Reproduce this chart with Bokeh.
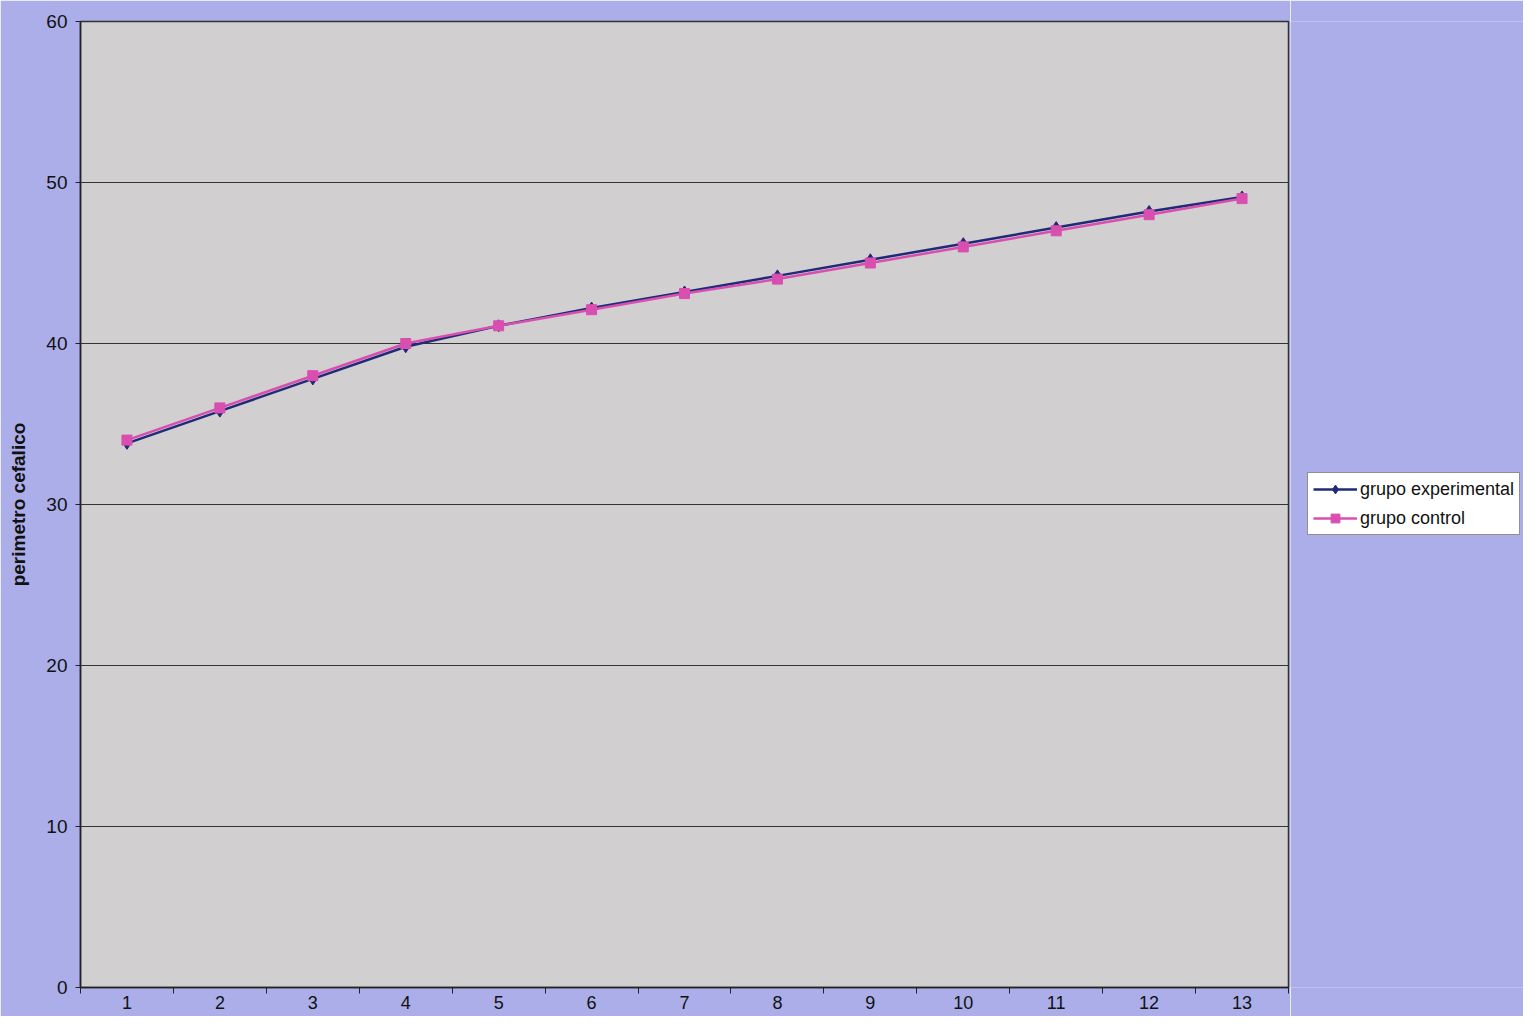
from bokeh.plotting import figure
from bokeh.layouts import row
from bokeh.models import FixedTicker, Range1d, Legend, LegendItem
from bokeh.embed import file_html
from bokeh.resources import INLINE

categories = list(range(1, 14))
tick_labels = [str(c) for c in categories]
experimental = [33.8, 35.8, 37.8, 39.8, 41.1, 42.2, 43.2, 44.2, 45.2, 46.2, 47.2, 48.2, 49.1]
control = [34.0, 36.0, 38.0, 40.0, 41.1, 42.1, 43.1, 44.0, 45.0, 46.0, 47.0, 48.0, 49.0]
series_names = ["grupo experimental", "grupo control"]
y_ticks = [0, 10, 20, 30, 40, 50, 60]

BG = "#ABAEE8"
PLOT_BG = "#D1CFCF"
NAVY = "#1F2A78"
PINK = "#D84FB0"
FONT = "Liberation Sans"

p = figure(width=1290, height=1016, output_backend="svg", toolbar_location=None,
           x_range=Range1d(0.5, 13.5), y_range=Range1d(0, 60),
           min_border_left=80, min_border_right=2, min_border_top=21, min_border_bottom=29)
p.background_fill_color = PLOT_BG
p.border_fill_color = BG
p.outline_line_color = "#333333"
p.outline_line_width = 1.5

# x axis: labels at category centres, ticks at category boundaries
p.xaxis.ticker = FixedTicker(ticks=categories, minor_ticks=[0.5 + i for i in range(14)])
p.xaxis.major_label_overrides = {c: l for c, l in zip(categories, tick_labels)}
p.xaxis.major_tick_line_color = None
p.xaxis.minor_tick_line_color = "#222222"
p.xaxis.minor_tick_out = 6
p.xaxis.minor_tick_in = 0
p.xaxis.axis_line_color = "#222222"
p.xaxis.axis_line_width = 1.5
p.xaxis.major_label_text_font = FONT
p.xaxis.major_label_text_font_size = "18px"
p.xaxis.major_label_text_color = "#111111"
p.xaxis.major_label_standoff = 2
p.xgrid.grid_line_color = None

p.yaxis.ticker = FixedTicker(ticks=y_ticks, minor_ticks=[])
p.yaxis.major_tick_out = 5
p.yaxis.major_tick_in = 0
p.yaxis.major_tick_line_color = "#222222"
p.yaxis.axis_line_color = "#222222"
p.yaxis.axis_line_width = 1.5
p.yaxis.major_label_text_font = FONT
p.yaxis.major_label_text_font_size = "19px"
p.yaxis.major_label_text_color = "#111111"
p.yaxis.major_label_standoff = 8
p.yaxis.axis_label = "perimetro cefalico"
p.yaxis.axis_label_text_font = FONT
p.yaxis.axis_label_text_font_size = "19px"
p.yaxis.axis_label_text_font_style = "bold"
p.yaxis.axis_label_text_color = "#111111"
p.yaxis.axis_label_standoff = 14
p.ygrid.grid_line_color = "#333333"
p.ygrid.grid_line_width = 1.2

p.line(categories, experimental, line_color=NAVY, line_width=2.5)
p.scatter(categories, experimental, marker="diamond", size=12, fill_color=NAVY, line_color=NAVY)
p.line(categories, control, line_color=PINK, line_width=2.5)
p.scatter(categories, control, marker="square", size=10, fill_color=PINK, line_color=PINK)

# legend panel: a figure to the right whose view range excludes the data,
# so its renderers only provide the legend swatches
q = figure(width=233, height=1016, output_backend="svg", toolbar_location=None,
           x_axis_type=None, y_axis_type=None,
           x_range=Range1d(1000, 1001), y_range=Range1d(1000, 1001),
           min_border=0)
q.background_fill_color = BG
q.background_fill_alpha = 1
q.border_fill_color = BG
q.outline_line_color = None
q.xgrid.grid_line_color = None
q.ygrid.grid_line_color = None
l1 = q.line(categories, experimental, line_color=NAVY, line_width=2.5)
m1 = q.scatter(categories, experimental, marker="diamond", size=12, fill_color=NAVY, line_color=NAVY)
l2 = q.line(categories, control, line_color=PINK, line_width=2.5)
m2 = q.scatter(categories, control, marker="square", size=10, fill_color=PINK, line_color=PINK)

lg = Legend(items=[LegendItem(label=series_names[0], renderers=[l1, m1]),
                   LegendItem(label=series_names[1], renderers=[l2, m2])],
            location=(17, 452))
lg.border_line_color = "#222222"
lg.border_line_width = 1
lg.background_fill_color = "white"
lg.background_fill_alpha = 1
lg.label_text_font = FONT
lg.label_text_font_size = "18px"
lg.label_text_color = "#111111"
lg.glyph_width = 44
lg.glyph_height = 22
lg.label_height = 22
lg.label_standoff = 3
lg.spacing = 7
lg.padding = 5
lg.margin = 0
q.add_layout(lg)

layout = row(p, q, spacing=0)
open("out.html", "w").write(file_html(layout, INLINE))
